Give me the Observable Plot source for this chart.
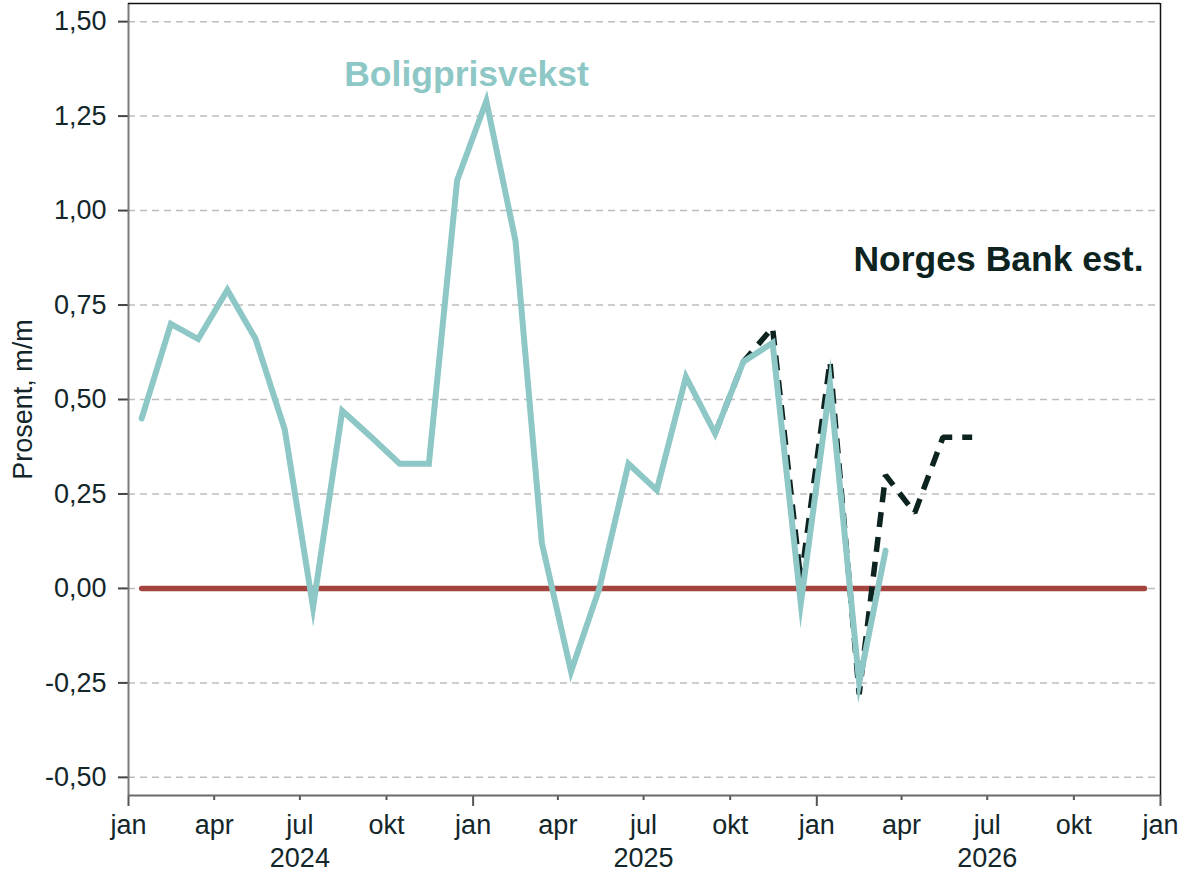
<!DOCTYPE html>
<html>
<head>
<meta charset="utf-8">
<script src="https://cdn.jsdelivr.net/npm/d3@7"></script>
<script src="https://cdn.jsdelivr.net/npm/@observablehq/plot@0.6"></script>
<style>
  html, body { margin: 0; padding: 0; background: #fff; }
  #chart { width: 1181px; height: 875px; }
</style>
</head>
<body>
<div id="chart"></div>
<script>
// ---- Data ----
// Monthly house price growth, Jan 2024 – Mar 2026 (percent m/m)
const actualStart = [2024, 0];
const actualValues = [0.45, 0.70, 0.66, 0.79, 0.66, 0.42, -0.05, 0.47, 0.40, 0.33, 0.33, 1.08,
                      1.29, 0.92, 0.12, -0.22, 0.00, 0.33, 0.26, 0.56, 0.41, 0.60, 0.65, -0.04,
                      0.54, -0.25, 0.10];
// Norges Bank estimate, Sep 2025 – Jun 2026
const estStart = [2025, 8];
const estValues = [0.41, 0.60, 0.69, 0.02, 0.60, -0.28, 0.30, 0.20, 0.40, 0.40];
// Zero reference line, Jan 2024 – Dec 2026
const zeroLine = [[2024, 0, 0], [2026, 11, 0]];
// Axis ticks
const yTicks = [-0.5, -0.25, 0, 0.25, 0.5, 0.75, 1.0, 1.25, 1.5];
const monthNames = ["jan", "feb", "mar", "apr", "mai", "jun", "jul", "aug", "sep", "okt", "nov", "des"];
const years = [2024, 2025, 2026];
const yDomain = [-0.548, 1.548];
const xDomainYears = [2024, 2027];
// Labels
const seriesLabel = {text: "Boligprisvekst", year: 2024, month: 11, day: 25, value: 1.36};
const estLabel = {text: "Norges Bank est.", value: 0.87};
const yLabel = "Prosent, m/m";

// ---- Build tables ----
const mid = (y, m) => new Date(Date.UTC(y, m, 15));
const actual = actualValues.map((v, i) => ({date: mid(actualStart[0], actualStart[1] + i), value: v}));
const est = estValues.map((v, i) => ({date: mid(estStart[0], estStart[1] + i), value: v}));
const zero = zeroLine.map(([y, m, v]) => ({date: mid(y, m), value: v}));
const xMin = new Date(Date.UTC(xDomainYears[0], 0, 1));
const xMax = new Date(Date.UTC(xDomainYears[1], 0, 1));
const janTicks = d3.utcYears(xMin, new Date(+xMax + 1));
const quarterTicks = d3.utcMonths(xMin, xMax, 3).filter(d => d.getUTCMonth() !== 0);
const yearTicks = years.map(y => new Date(Date.UTC(y, 6, 1)));
const mfmt = d => monthNames[d.getUTCMonth()];
const yfmt = d => d.toFixed(2).replace(".", ",");

const textColor = "#13262a";
const teal = "#8dc7c6";
const dark = "#0c2320";
const red = "#a3443f";

const chart = Plot.plot({
  width: 1181,
  height: 875,
  marginLeft: 128,
  marginRight: 21,
  marginTop: 3,
  marginBottom: 80,
  style: {fontFamily: "'Liberation Sans', Arial, sans-serif", fontSize: "27px", color: textColor, background: "#fff"},
  x: {type: "utc", domain: [xMin, xMax]},
  y: {domain: yDomain},
  marks: [
    Plot.ruleY(yTicks, {stroke: "#bdbdbd", strokeWidth: 1.5, strokeDasharray: "7,5"}),
    Plot.axisY({ticks: yTicks, tickFormat: yfmt, tickSize: 10, tickPadding: 12, stroke: "#444", strokeWidth: 2, label: null, fill: textColor}),
    Plot.axisX({ticks: janTicks, tickFormat: mfmt, tickSize: 11, tickPadding: 8, stroke: "#555", strokeWidth: 2, label: null, fill: textColor}),
    Plot.axisX({ticks: quarterTicks, tickFormat: mfmt, tickSize: 5, tickPadding: 14, stroke: "#555", strokeWidth: 2, label: null, fill: textColor}),
    Plot.axisX({ticks: yearTicks, tickFormat: d => String(d.getUTCFullYear()), tickSize: 0, tickPadding: 52, label: null, fill: textColor}),
    // frame
    Plot.ruleX([xMin], {stroke: "#7a7a7a", strokeWidth: 2}),
    Plot.ruleY([yDomain[0]], {stroke: "#6a6a6a", strokeWidth: 2}),
    Plot.ruleY([yDomain[1]], {stroke: "#111", strokeWidth: 1.5}),
    Plot.ruleX([xMax], {stroke: "#111", strokeWidth: 1.5}),
    // data
    Plot.line(zero, {x: "date", y: "value", stroke: red, strokeWidth: 5.5}),
    Plot.line(est, {x: "date", y: "value", stroke: dark, strokeWidth: 5.5, strokeDasharray: "15,10", strokeLinejoin: "miter", strokeLinecap: "butt"}),
    Plot.line(actual, {x: "date", y: "value", stroke: teal, strokeWidth: 6, strokeLinejoin: "miter", strokeMiterlimit: 10}),
    // labels
    Plot.text([seriesLabel], {x: d => new Date(Date.UTC(d.year, d.month, d.day)), y: "value", text: "text", fill: teal, fontSize: 35.5, fontWeight: "bold", textAnchor: "middle"}),
    Plot.text([estLabel], {frameAnchor: "right", dx: -17, y: "value", text: "text", fill: dark, fontSize: 35.5, fontWeight: "bold", textAnchor: "end"}),
    Plot.text([yLabel], {frameAnchor: "left", dx: -105, text: d => d, rotate: -90, fill: textColor, fontSize: 27, textAnchor: "middle"})
  ]
});
document.getElementById("chart").appendChild(chart);
</script>
</body>
</html>
